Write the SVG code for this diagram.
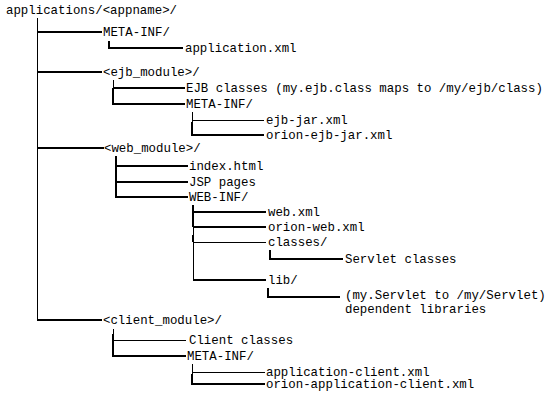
<svg xmlns="http://www.w3.org/2000/svg" width="556" height="412" viewBox="0 0 556 412">
<style>
text{font-family:"Liberation Mono","DejaVu Sans Mono",monospace;font-size:12.4px;fill:#000}
.k{stroke:#000;stroke-width:2;fill:none}
.t{stroke:#000;stroke-width:1;fill:none}
</style>
<rect width="556" height="412" fill="#fff"/>
<g id="connectors">
<path class="t" d="M37.5 18V320"/>
<path class="k" d="M37 32H102"/>
<path class="k" d="M37 72H102"/>
<path class="k" d="M37 148H104"/>
<path class="k" d="M37 320H102"/>
<path class="k" d="M109 41V48H183"/>
<path class="t" d="M113.5 80V88"/>
<path class="k" d="M113 88H185"/>
<path class="k" d="M113 88V104H185"/>
<path class="t" d="M192.5 112V135"/>
<path class="t" d="M192 120.5H264"/>
<path class="k" d="M192 122V135H264"/>
<path class="k" d="M116 156V197H188"/>
<path class="k" d="M116 166H188"/>
<path class="k" d="M116 182H188"/>
<path class="t" d="M193.5 205V280"/>
<path class="k" d="M193 205V227"/>
<path class="k" d="M193 212H266"/>
<path class="k" d="M193 227H266"/>
<path class="k" d="M193 235V242"/>
<path class="t" d="M193 242.5H266"/>
<path class="k" d="M193 280H266"/>
<path class="k" d="M270 250V259H343"/>
<path class="k" d="M268 288V297H340"/>
<path class="t" d="M113.5 329V356"/>
<path class="t" d="M113 340.5H186"/>
<path class="k" d="M113 334V356H186"/>
<path class="t" d="M192.5 364V384"/>
<path class="t" d="M192 372.5H265"/>
<path class="k" d="M192 374V384H265"/>
</g>
<g id="root"><text x="6" y="14">applications/&lt;appname&gt;/</text></g>
<g id="meta-inf"><text x="103" y="36">META-INF/</text></g>
<g id="application-xml"><text x="185" y="52">application.xml</text></g>
<g id="ejb-module"><text x="103" y="76">&lt;ejb_module&gt;/</text></g>
<g id="ejb-classes"><text x="186" y="92">EJB classes (my.ejb.class maps to /my/ejb/class)</text></g>
<g id="ejb-meta-inf"><text x="186" y="108">META-INF/</text></g>
<g id="ejb-jar"><text x="266" y="124">ejb-jar.xml</text></g>
<g id="orion-ejb-jar"><text x="266" y="139">orion-ejb-jar.xml</text></g>
<g id="web-module"><text x="104" y="152">&lt;web_module&gt;/</text></g>
<g id="index-html"><text x="189" y="170">index.html</text></g>
<g id="jsp-pages"><text x="189" y="186">JSP pages</text></g>
<g id="web-inf"><text x="189" y="201">WEB-INF/</text></g>
<g id="web-xml"><text x="268" y="216">web.xml</text></g>
<g id="orion-web-xml"><text x="268" y="231">orion-web.xml</text></g>
<g id="classes"><text x="268" y="246">classes/</text></g>
<g id="servlet-classes"><text x="345" y="263">Servlet classes</text></g>
<g id="lib"><text x="268" y="284">lib/</text></g>
<g id="dependent-libraries"><text x="345" y="299">(my.Servlet to /my/Servlet)</text><text x="345" y="312.5">dependent libraries</text></g>
<g id="client-module"><text x="103" y="324">&lt;client_module&gt;/</text></g>
<g id="client-classes"><text x="189" y="344">Client classes</text></g>
<g id="client-meta-inf"><text x="187" y="360">META-INF/</text></g>
<g id="application-client-xml"><text x="266" y="375.5">application-client.xml</text></g>
<g id="orion-application-client-xml"><text x="266" y="388">orion-application-client.xml</text></g>
</svg>
